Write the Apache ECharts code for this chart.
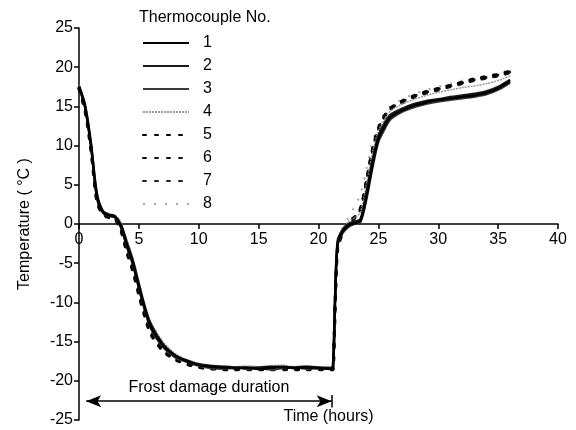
<!DOCTYPE html>
<html>
<head>
<meta charset="utf-8">
<script src="https://cdn.jsdelivr.net/npm/echarts@6/dist/echarts.min.js"></script>
<style>
  html, body { margin: 0; padding: 0; background: #fff; }
  #main { width: 576px; height: 430px; }
</style>
</head>
<body>
<div id="main"></div>
<script>
// time in hours
const hours = [0, 0.5, 1, 1.5, 2, 2.5, 3, 3.5, 4, 4.5, 5, 5.5, 6, 7, 8, 9, 10, 11, 12, 13, 14, 15, 16, 17, 18, 19, 20, 21, 21.2, 21.4, 21.6, 22, 22.5, 23, 23.5, 24, 24.5, 25, 25.5, 26, 27, 28, 29, 30, 31, 32, 33, 34, 35, 36]

const tc1 = [17.5, 15.0, 10.0, 3.5, 1.5, 1.1, 0.9, -0.3, -2.7, -5.0, -8.0, -10.8, -13.1, -15.5, -16.8, -17.5, -18.0, -18.2, -18.3, -18.4, -18.3, -18.5, -18.3, -18.2, -18.4, -18.3, -18.4, -18.5, -18.4, -9.0, -2.5, -1.0, -0.2, 0.1, 0.4, 3.5, 7.5, 10.8, 12.4, 13.6, 14.5, 15.1, 15.5, 15.8, 16.0, 16.2, 16.4, 16.7, 17.3, 18.2]
const tc2 = [17.6, 15.2, 10.3, 3.8, 1.6, 1.2, 1.0, -0.1, -2.4, -4.7, -7.7, -10.6, -12.8, -15.3, -16.7, -17.4, -17.9, -18.1, -18.2, -18.3, -18.4, -18.3, -18.2, -18.3, -18.3, -18.2, -18.3, -18.4, -18.3, -8.5, -2.2, -0.8, 0.0, 0.3, 0.6, 4.0, 8.0, 11.2, 12.8, 13.9, 14.7, 15.3, 15.7, 15.9, 16.2, 16.4, 16.6, 16.9, 17.5, 18.4]
const tc3 = [17.4, 14.8, 9.8, 3.2, 1.4, 1.0, 0.8, -0.5, -3.0, -5.3, -8.3, -11.1, -13.4, -15.7, -17.0, -17.6, -18.1, -18.4, -18.5, -18.3, -18.5, -18.4, -18.6, -18.4, -18.3, -18.5, -18.4, -18.3, -18.5, -9.5, -2.8, -1.2, -0.4, 0.0, 0.2, 3.0, 7.0, 10.4, 12.0, 13.3, 14.3, 14.9, 15.3, 15.6, 15.8, 16.0, 16.2, 16.5, 17.1, 18.0]
const tc4 = [17.7, 15.4, 10.6, 4.2, 1.8, 1.3, 1.1, 0.2, -2.0, -4.3, -7.3, -10.2, -12.5, -15.0, -16.5, -17.3, -17.8, -18.0, -18.1, -18.2, -18.1, -18.2, -18.1, -18.0, -18.2, -18.1, -18.2, -18.3, -18.2, -8.0, -2.0, -0.6, 0.3, 0.8, 1.5, 5.0, 9.0, 11.8, 13.3, 14.4, 15.3, 15.9, 16.4, 16.8, 17.1, 17.4, 17.6, 17.9, 18.3, 18.9]
const tc5 = [17.3, 14.6, 9.6, 3.0, 1.3, 0.9, 0.7, -0.7, -3.4, -5.8, -8.8, -11.6, -13.8, -16.0, -17.2, -17.8, -18.2, -18.4, -18.6, -18.5, -18.4, -18.6, -18.5, -18.4, -18.6, -18.5, -18.4, -18.6, -18.5, -9.8, -3.0, -1.0, 0.2, 0.9, 2.0, 5.5, 9.5, 12.2, 13.8, 14.8, 15.7, 16.4, 16.9, 17.3, 17.7, 18.1, 18.5, 18.8, 19.1, 19.5]
const tc6 = [17.2, 14.4, 9.4, 2.8, 1.2, 0.8, 0.6, -0.9, -3.7, -6.1, -9.1, -11.9, -14.1, -16.2, -17.3, -17.9, -18.3, -18.5, -18.4, -18.6, -18.5, -18.4, -18.6, -18.5, -18.4, -18.6, -18.5, -18.4, -18.6, -10.2, -3.3, -1.3, 0.0, 0.7, 1.8, 5.2, 9.2, 12.0, 13.6, 14.6, 15.5, 16.2, 16.7, 17.1, 17.5, 17.9, 18.3, 18.6, 18.9, 19.3]
const tc7 = [17.4, 14.7, 9.7, 3.1, 1.3, 0.9, 0.7, -0.6, -3.2, -5.6, -8.6, -11.4, -13.6, -15.9, -17.1, -17.7, -18.1, -18.3, -18.5, -18.4, -18.6, -18.5, -18.4, -18.6, -18.5, -18.4, -18.6, -18.5, -18.4, -9.6, -2.9, -1.1, 0.1, 0.8, 1.9, 5.4, 9.4, 12.1, 13.7, 14.7, 15.6, 16.3, 16.8, 17.2, 17.6, 18.0, 18.4, 18.7, 19.0, 19.4]
const tc8 = [17.6, 15.1, 10.2, 3.9, 1.7, 1.2, 1.0, 0.0, -2.2, -4.5, -7.5, -10.4, -12.7, -15.2, -16.6, -17.4, -17.9, -18.1, -18.2, -18.3, -18.2, -18.3, -18.2, -18.1, -18.3, -18.2, -18.3, -18.4, -18.3, -8.2, -2.1, -0.5, 0.8, 2.2, 3.8, 7.0, 10.5, 12.6, 14.1, 15.0, 15.9, 16.6, 17.1, 17.5, 17.9, 18.3, 18.6, 18.9, 19.2, 19.6]

const seriesNames = ['1', '2', '3', '4', '5', '6', '7', '8']
const seriesValues = [tc1, tc2, tc3, tc4, tc5, tc6, tc7, tc8]

// frost damage duration (hours) and where the arrow sits
const frostStart = 0.6
const frostEnd = 21.1
const arrowLevel = -22.6

const FONT = 'Liberation Sans, Arial, sans-serif'
const GRID_H = 430 - 28 - 10

const lineStyles = [
  { color: '#000', width: 2.5, type: 'solid' },
  { color: '#1a1a1a', width: 2.5, type: 'solid' },
  { color: '#3a3a3a', width: 2, type: 'solid' },
  { color: '#9a9a9a', width: 1.5, type: [2, 1] },
  { color: '#000', width: 3, type: [3, 9], cap: 'round' },
  { color: '#111', width: 3, type: [3, 9], cap: 'round' },
  { color: '#222', width: 3, type: [3, 9], cap: 'round' },
  { color: '#a8a8a8', width: 2, type: [2, 9] }
]

const chart = echarts.init(document.getElementById('main'))

const series = seriesNames.map((name, i) => {
  const s = {
    name: name,
    type: 'line',
    symbol: 'none',
    smooth: 0.3,
    color: lineStyles[i].color,
    lineStyle: lineStyles[i],
    data: hours.map((h, j) => [h, seriesValues[i][j]]),
    z: 10 - i
  }
  return s
})

// annotation: double arrow for frost damage duration
series[0].markLine = {
  silent: true,
  animation: false,
  symbol: ['arrow', 'none'],
  symbolSize: [9, 15],
  lineStyle: { color: '#000', width: 1.5, type: 'solid' },
  label: {
    show: true,
    position: 'middle',
    distance: 6,
    formatter: 'Frost damage duration',
    color: '#000',
    fontFamily: FONT,
    fontSize: 16
  },
  data: [
    [{ coord: [frostStart, arrowLevel], symbol: 'arrow' }, { coord: [frostEnd, arrowLevel], symbol: 'arrow' }],
    [{ coord: [frostEnd, arrowLevel + 0.8], symbol: 'none', label: { show: false } }, { coord: [frostEnd, arrowLevel - 0.8], symbol: 'none' }]
  ]
}

const options = {
  animation: false,
  backgroundColor: '#fff',
  textStyle: { fontFamily: FONT },
  grid: { left: 79, right: 18, top: 28, bottom: 10, containLabel: false, outerBoundsMode: 'none' },
  title: {
    text: 'Thermocouple No.',
    left: 134,
    top: 5,
    textStyle: { fontFamily: FONT, fontSize: 16, fontWeight: 'normal', color: '#000' }
  },
  legend: {
    orient: 'vertical',
    left: 137,
    top: 30,
    itemWidth: 46,
    itemHeight: 14,
    itemGap: 7,
    itemStyle: { opacity: 0 },
    data: seriesNames,
    textStyle: { fontFamily: FONT, fontSize: 16, color: '#000', padding: [0, 0, 0, 9] }
  },
  xAxis: {
    type: 'value',
    min: 0,
    max: 40,
    interval: 5,
    // x axis crosses at 0 °C (middle of the -25..25 range)
    offset: -GRID_H / 2,
    name: 'Time (hours)',
    nameLocation: 'middle',
    nameGap: 185,
    nameTextStyle: { fontFamily: FONT, fontSize: 16, color: '#000', padding: [0, 0, 0, 20] },
    axisLine: { onZero: false, lineStyle: { color: '#000', width: 1.5 } },
    axisTick: { show: true, length: 5, lineStyle: { color: '#000', width: 1.5 } },
    axisLabel: { fontFamily: FONT, fontSize: 16, color: '#000', margin: 8 },
    splitLine: { show: false }
  },
  yAxis: {
    type: 'value',
    min: -25,
    max: 25,
    interval: 5,
    name: 'Temperature ( °C )',
    nameLocation: 'middle',
    nameGap: 46,
    nameTextStyle: { fontFamily: FONT, fontSize: 16, color: '#000' },
    axisLine: { show: true, onZero: false, lineStyle: { color: '#000', width: 1.5 } },
    axisTick: { show: true, length: 5, lineStyle: { color: '#000', width: 1.5 } },
    axisLabel: { fontFamily: FONT, fontSize: 16, color: '#000', margin: 6 },
    splitLine: { show: false }
  },
  series: series
}

chart.setOption(options)
</script>
</body>
</html>
